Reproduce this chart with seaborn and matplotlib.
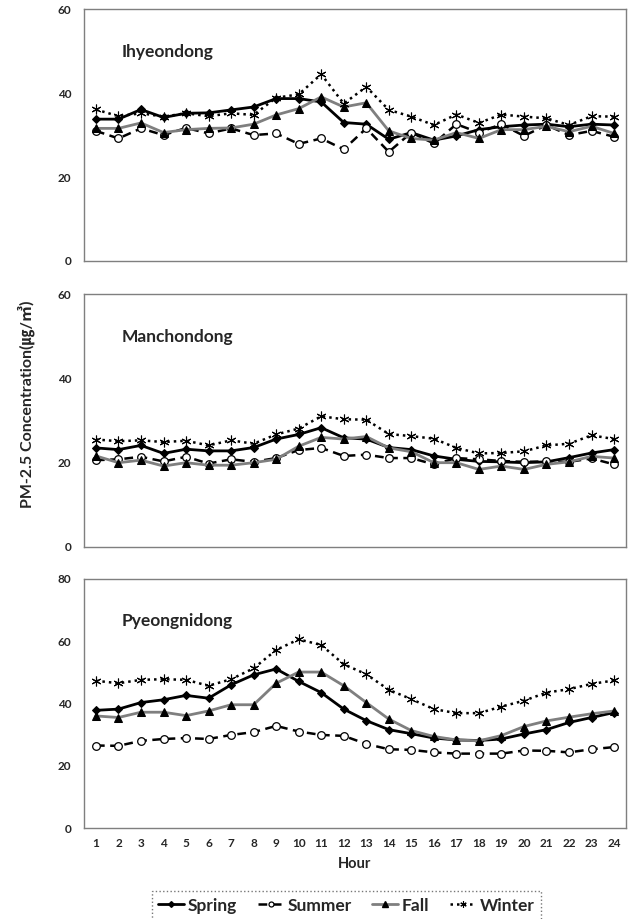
import matplotlib
matplotlib.use("Agg")
import matplotlib.pyplot as plt
from matplotlib.lines import Line2D
import seaborn as sns

# hourly PM-2.5 means
hours = list(range(1, 25))
seasons = ["Spring", "Summer", "Fall", "Winter"]
sites = ["Ihyeondong", "Manchondong", "Pyeongnidong"]

ihyeon_spring = [33.8, 33.8, 36.1, 34.2, 35.2, 35.3, 36.0, 36.7, 38.7, 38.7, 37.9, 33.0,
                 32.6, 29.0, 30.6, 28.8, 29.8, 31.3, 32.0, 32.4, 32.6, 32.0, 32.6, 32.4]
ihyeon_summer = [31.0, 29.2, 31.6, 30.0, 31.7, 30.4, 31.6, 30.0, 30.4, 27.9, 29.2, 26.6,
                 31.6, 26.0, 30.6, 28.0, 32.6, 30.6, 32.6, 29.8, 32.4, 30.0, 31.0, 29.6]
ihyeon_fall = [31.6, 31.6, 32.9, 30.6, 31.3, 31.6, 31.7, 32.6, 34.8, 36.3, 39.1, 36.7,
               37.7, 31.0, 29.2, 28.8, 30.6, 29.2, 31.3, 31.3, 32.1, 30.8, 32.1, 30.4]
ihyeon_winter = [36.1, 34.5, 35.2, 34.4, 35.2, 34.5, 35.2, 34.8, 38.9, 39.7, 44.5, 37.5,
                 41.5, 36.0, 34.4, 32.4, 34.9, 32.9, 34.9, 34.4, 34.0, 32.4, 34.5, 34.4]

manchon_spring = [23.5, 23.1, 24.1, 22.2, 23.2, 22.8, 22.8, 23.6, 25.6, 26.7, 28.3, 25.9,
                  25.6, 23.6, 23.1, 21.6, 20.8, 20.3, 20.2, 20.0, 20.2, 21.2, 22.3, 23.1]
manchon_summer = [20.6, 20.8, 21.4, 20.3, 21.4, 19.8, 20.8, 20.2, 21.1, 23.0, 23.5, 21.6,
                  21.9, 21.1, 21.1, 19.6, 21.1, 20.8, 20.4, 20.2, 20.3, 20.2, 21.0, 19.6]
manchon_fall = [21.6, 20.0, 20.6, 19.2, 20.0, 19.4, 19.4, 20.0, 20.8, 23.9, 26.0, 25.6,
                26.2, 23.5, 22.6, 20.0, 20.0, 18.4, 19.2, 18.4, 19.6, 20.2, 21.5, 21.1]
manchon_winter = [25.5, 25.1, 25.3, 24.9, 25.2, 24.1, 25.3, 24.5, 26.7, 28.1, 31.0, 30.3,
                  30.2, 26.8, 26.3, 25.7, 23.5, 22.2, 22.3, 22.7, 24.1, 24.5, 26.5, 25.6]

pyeong_spring = [37.8, 38.2, 40.3, 41.2, 42.6, 41.7, 46.0, 49.2, 51.1, 47.1, 43.5, 38.2,
                 34.5, 31.6, 30.3, 28.9, 28.3, 28.1, 28.6, 30.2, 31.6, 33.9, 35.5, 37.1]
pyeong_summer = [26.5, 26.4, 28.0, 28.6, 28.9, 28.6, 29.9, 30.8, 32.8, 31.0, 29.9, 29.6,
                 27.0, 25.3, 25.1, 24.3, 23.9, 23.9, 23.9, 24.9, 24.8, 24.3, 25.3, 26.0]
pyeong_fall = [36.0, 35.5, 37.2, 37.2, 36.1, 37.6, 39.6, 39.6, 46.5, 50.1, 50.1, 45.7,
               40.3, 35.0, 31.3, 29.4, 28.3, 28.0, 29.7, 32.6, 34.4, 35.6, 36.7, 37.6]
pyeong_winter = [47.3, 46.5, 47.6, 47.8, 47.6, 45.7, 47.8, 51.3, 57.2, 60.6, 58.8, 52.6,
                 49.4, 44.4, 41.4, 38.2, 36.9, 36.9, 39.0, 40.9, 43.5, 44.6, 46.3, 47.4]

site_data = [
    [ihyeon_spring, ihyeon_summer, ihyeon_fall, ihyeon_winter],
    [manchon_spring, manchon_summer, manchon_fall, manchon_winter],
    [pyeong_spring, pyeong_summer, pyeong_fall, pyeong_winter],
]
y_max = [60, 60, 80]

# how each season is drawn
styles = {
    "Spring": dict(color="black", linestyle="-", linewidth=2.0, marker="D",
                   markersize=4.5, markerfacecolor="black", markeredgecolor="black"),
    "Summer": dict(color="black", linestyle=(0, (3.5, 2.2)), linewidth=1.8, marker="o",
                   markersize=5.5, markerfacecolor="white", markeredgecolor="black",
                   markeredgewidth=0.9),
    "Fall": dict(color="#7f7f7f", linestyle="-", linewidth=2.0, marker="^",
                 markersize=6, markerfacecolor="black", markeredgecolor="black"),
    "Winter": dict(color="black", linestyle=(0, (1, 1.6)), linewidth=1.8, marker=(6, 2, 0),
                   markersize=7, markerfacecolor="black", markeredgecolor="black",
                   markeredgewidth=0.8),
}

sns.set_theme(style="white")
font = ["Lato", "Noto Sans CJK KR", "DejaVu Sans"]
plt.rcParams["font.family"] = font

fig = plt.figure(figsize=(6.31, 9.19), dpi=100)
boxes = [
    [0.1331, 0.716, 0.8590, 0.274],
    [0.1331, 0.4048, 0.8590, 0.2752],
    [0.1331, 0.0990, 0.8590, 0.2710],
]

for i, (site, series) in enumerate(zip(sites, site_data)):
    ax = fig.add_axes(boxes[i])
    for season, vals in zip(seasons, series):
        sns.lineplot(x=hours, y=vals, ax=ax, **styles[season])
    ax.set_xlim(0.47, 24.53)
    ax.set_ylim(0, y_max[i])
    ax.set_yticks(range(0, y_max[i] + 1, 20))
    ax.set_yticklabels([str(v) for v in range(0, y_max[i] + 1, 20)],
                       fontsize=8.5, fontweight="bold")
    ax.tick_params(axis="y", length=0, pad=9)
    for s in ax.spines.values():
        s.set_color("#7f7f7f")
        s.set_linewidth(1.0)
    ax.text(0.07, 0.83, site, transform=ax.transAxes, fontsize=12.5,
            fontweight="bold", va="center", ha="left")
    if i == 2:
        ax.set_xticks(hours)
        ax.set_xticklabels([str(h) for h in hours], fontsize=8.5, fontweight="bold")
        ax.tick_params(axis="x", length=0, pad=7)
        ax.set_xlabel("Hour", fontsize=10.5, fontweight="bold", labelpad=6)
    else:
        ax.set_xticks([])
        ax.set_xlabel("")
    ax.set_ylabel("")

fig.text(0.041, 0.560, "PM-2.5 Concentration(㎍/㎥)", rotation=90,
         fontsize=11.5, fontweight="bold", ha="center", va="center")

# legend keys use smaller markers, as in the original
handles = []
for s in seasons:
    kw = dict(styles[s])
    kw["markersize"] = kw["markersize"] * 0.65
    handles.append(Line2D([], [], **kw))
leg = fig.legend(handles, seasons, loc="upper center", bbox_to_anchor=(0.549, 0.030),
                 ncol=4, frameon=True, fancybox=False,
                 handlelength=1.5, handletextpad=0.2, columnspacing=1.2,
                 borderpad=0.35, borderaxespad=0.0,
                 prop={"family": font, "size": 12.5, "weight": "bold"})
leg.get_frame().set_edgecolor("#555555")
leg.get_frame().set_linestyle(":")
leg.get_frame().set_linewidth(1.0)

fig.savefig("out.png", dpi=100)
